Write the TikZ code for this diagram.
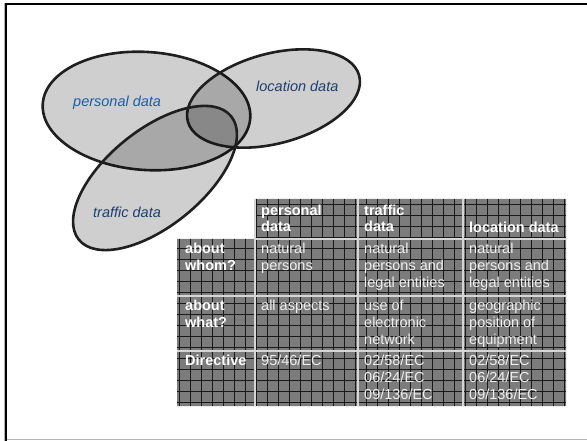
\documentclass[tikz,border=0pt]{standalone}
\usepackage{fontspec}
\setmainfont{Liberation Sans}
\definecolor{cellgrey}{HTML}{7C7C7C}
\definecolor{sepline}{HTML}{D6D6D6}
\definecolor{celltext}{HTML}{EEEEEE}
\definecolor{labelblue}{HTML}{1C5DA8}
\definecolor{labelnavy}{HTML}{1E3E70}
\newcommand\cellfont{\fontsize{14.5}{16.7}\selectfont}
\begin{document}
\begin{tikzpicture}[x=1pt,y=-1pt,
  setshape/.style={draw=black!88, line width=2.6pt, fill=black, fill opacity=0.19},
  setlabel/.style={anchor=base west, inner sep=0pt, font=\cellfont\itshape},
  cell/.style={anchor=north west, inner sep=0pt, align=left, text=celltext, font=\cellfont},
  headcell/.style={cell, text=white, font=\cellfont\bfseries},
  gridline/.style={black!90, line width=0.8pt},
  sep/.style={sepline, line width=1.6pt}]
\useasboundingbox (0,0) rectangle (587,441);

% frame
\draw[gray!60, line width=1.3pt] (4,439.8) -- (587,439.8);
\draw[gray!60, line width=0.8pt] (4.2,3) -- (4.2,441);
\draw[black, line width=2.3pt] (6,441) -- (6,4.2) -- (587,4.2);

% the three overlapping data sets
\draw[setshape, rotate around={-4:(146.5,111)}] (146.5,111) ellipse [x radius=104pt, y radius=59pt];
\draw[setshape, rotate around={15:(273.5,98.5)}] (273.5,98.5) ellipse [x radius=88.7pt, y radius=45pt];
\draw[setshape, rotate around={39:(155,178)}] (155,178) ellipse [x radius=98pt, y radius=48pt];

\node[setlabel, text=labelblue] (personal) at (73,107) {personal data};
\node[setlabel, text=labelnavy] (location) at (256,92) {location data};
\node[setlabel, text=labelnavy] (traffic) at (93,218) {traffic data};

% comparison table: background with a fine grid
\fill[cellgrey] (255,199) -- (566,199) -- (566,406) -- (177,406) -- (177,239) -- (255,239) -- cycle;
\begin{scope}
  \clip (255,199) -- (566,199) -- (566,406) -- (177,406) -- (177,239) -- (255,239) -- cycle;
  \foreach \k in {0,...,36} \draw[gridline] (179.3+11*\k,199) -- (179.3+11*\k,406);
  \foreach \k in {-1,...,19} \draw[gridline] (177,204.5+11*\k) -- (566,204.5+11*\k);
\end{scope}

% cell separators
\draw[sep] (255,199) -- (255,406);
\draw[sep] (358,199) -- (358,406);
\draw[sep] (463,199) -- (463,406);
\draw[sep] (255,239) -- (566,239);
\draw[sep] (177,296) -- (566,296);
\draw[sep] (177,351) -- (566,351);

% header row
\node[headcell] (hpersonal) at (261,203.3) {\strut personal\\data};
\node[headcell] (htraffic) at (364,203.3) {\strut traffic\\data};
\node[headcell] (hlocation) at (469,220.3) {\strut location data};

% about whom?
\node[headcell] (rwhom) at (185,241.8) {\strut about\\whom?};
\node[cell] (whom1) at (261,241.8) {\strut natural\\persons};
\node[cell] (whom2) at (364,241.8) {\strut natural\\persons and\\legal entities};
\node[cell] (whom3) at (469,241.8) {\strut natural\\persons and\\legal entities};

% about what?
\node[headcell] (rwhat) at (185,298.8) {\strut about\\what?};
\node[cell] (what1) at (261,298.8) {\strut all aspects};
\node[cell] (what2) at (364,298.8) {\strut use of\\electronic\\network};
\node[cell] (what3) at (469,298.8) {\strut geographic\\position of\\equipment};

% Directive
\node[headcell] (rdir) at (185,353.8) {\strut Directive};
\node[cell] (dir1) at (261,353.8) {\strut 95/46/EC};
\node[cell] (dir2) at (364,353.8) {\strut 02/58/EC\\06/24/EC\\09/136/EC};
\node[cell] (dir3) at (469,353.8) {\strut 02/58/EC\\06/24/EC\\09/136/EC};
\end{tikzpicture}
\end{document}
